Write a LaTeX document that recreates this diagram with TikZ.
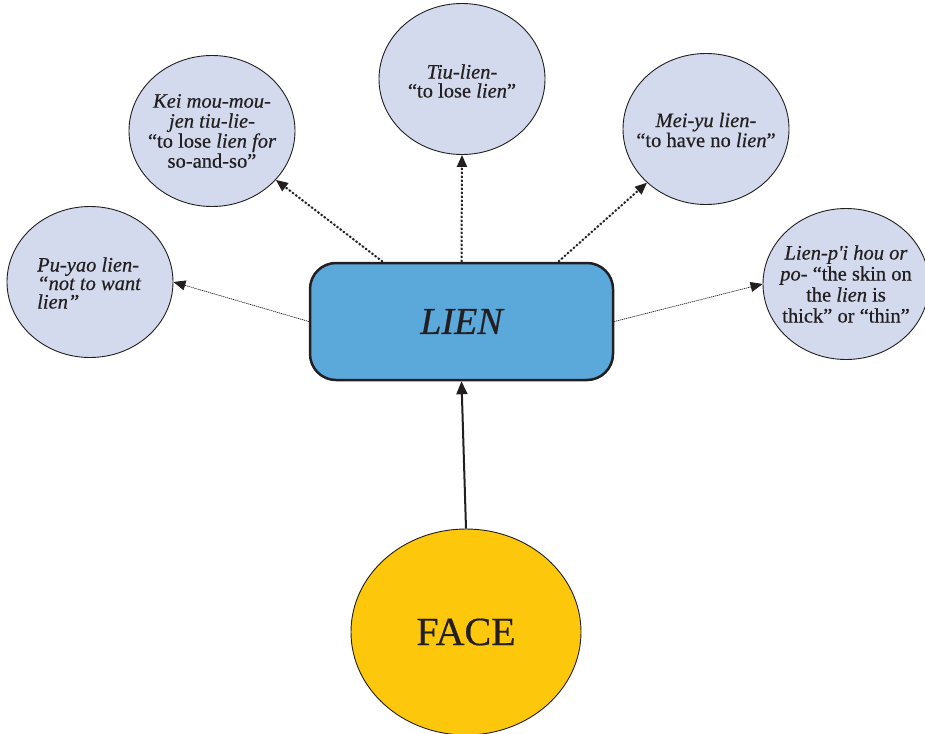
\documentclass[tikz,border=0pt]{standalone}
\usepackage{fontspec}
\setmainfont{Liberation Serif}
\newfontfamily\bubblefont{Liberation Serif}[FakeBold=0.5]
\usetikzlibrary{shapes.geometric,arrows.meta}

\definecolor{bubblefill}{HTML}{D3DAED}
\definecolor{lienblue}{HTML}{5BA8DB}
\definecolor{faceyellow}{HTML}{FDC70C}
\definecolor{ink}{HTML}{231F20}

\begin{document}
\begin{tikzpicture}[x=1pt,y=-1pt,
  bubble/.style={ellipse,draw=ink,line width=0.9pt,fill=bubblefill,
    inner sep=0pt,minimum width=166pt,minimum height=151pt},
  bubbletext/.style={text=ink,inner sep=0pt,
    font=\bubblefont\fontsize{20.5}{#1}\selectfont},
  bubbletext/.default=20,
  tipend/.style={-{Triangle[length=12pt,width=10pt]}},
  thickdots/.style={tipend,draw=ink,fill=ink,line width=2pt,dash pattern=on 2pt off 2pt},
  thindots/.style={tipend,draw=ink,fill=ink,line width=0.7pt,dash pattern=on 1pt off 1pt},
]
\useasboundingbox (0,0) rectangle (925,733);
\begin{scope}
\clip (0,0) rectangle (925,733);

% central term
\node[rectangle,rounded corners=26pt,draw=ink,line width=2.5pt,fill=lienblue,
  minimum width=303pt,minimum height=117pt] (lien) at (461.5,321.5) {};
\node[text=ink,font=\bubblefont\fontsize{38}{42}\selectfont\itshape] (lient) at (lien.center) {LIEN};

% root
\node[ellipse,draw=ink,line width=0.9pt,fill=faceyellow,inner sep=0pt,
  minimum width=230pt,minimum height=206pt] (face) at (466,632) {};
\node[text=ink,font=\bubblefont\fontsize{40}{44}\selectfont] (facet) at (face.center) {FACE};

% expressions built on lien
\node[bubble] (puyao) at (90,282) {};
\node[bubble] (kei) at (212,131) {};
\node[bubble] (tiu) at (462,79) {};
\node[bubble] (meiyu) at (706,129) {};
\node[bubble] (lienpi) at (846,284) {};

\node[bubbletext=18.5,align=left,anchor=west] (puyaot) at (37,283)
  {\textit{Pu-yao lien-}\\\textit{“not to want}\\\textit{lien”}};
\node[bubbletext=20,align=center] (keit) at (212,131)
  {\textit{Kei mou-mou-}\\\textit{jen tiu-lie-}\\“to lose \textit{lien for}\\so-and-so”};
\node[bubbletext=19,align=center] (tiut) at (462,81)
  {\textit{Tiu-lien-}\\“to lose \textit{lien}”};
\node[bubbletext=20,align=center] (meiyut) at (706,130)
  {\textit{Mei-yu lien-}\\“to have no \textit{lien}”};
\node[bubbletext=21,align=center] (lienpit) at (846,284)
  {\textit{Lien-p'i hou or}\\\textit{po-} “the skin on\\the \textit{lien} is\\thick” or “thin”};

% connectors
\draw[line width=2pt,draw=ink,-{Triangle[length=13pt,width=11pt]}] (face.north) -- (lien.south);
\draw[thickdots] ([xshift=74pt]lien.north west) -- (kei);
\draw[thickdots] (lien.north) -- (tiu.south);
\draw[thickdots] ([xshift=-56pt]lien.north east) -- (meiyu.south west);
\draw[thindots] (lien.west) -- (puyao.east);
\draw[thindots] (lien.east) -- (lienpi.west);
\end{scope}
\end{tikzpicture}
\end{document}
